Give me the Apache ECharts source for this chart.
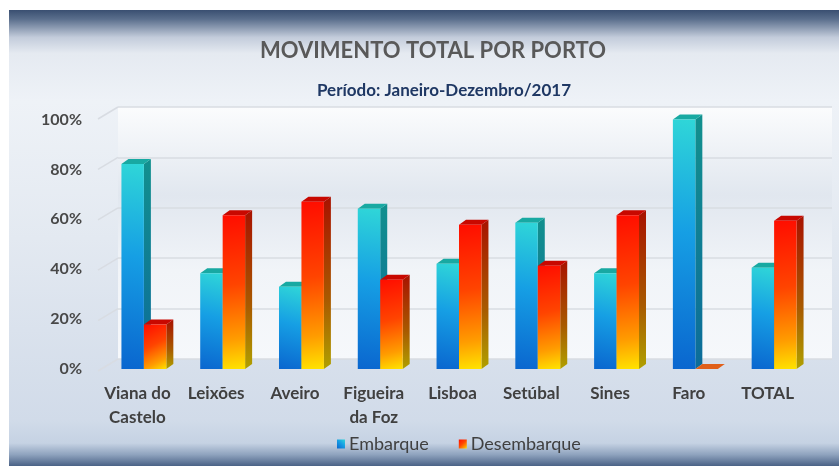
<!DOCTYPE html>
<html>
<head>
<meta charset="utf-8">
<script src="https://cdn.jsdelivr.net/npm/echarts@6/dist/echarts.min.js"></script>
<style>html,body{margin:0;padding:0;background:#fff}#c{width:839px;height:466px}</style>
</head>
<body>
<div id="c"></div>
<script>
// ---- data ----
const categories = ['Viana do\nCastelo', 'Leixões', 'Aveiro', 'Figueira\nda Foz', 'Lisboa', 'Setúbal', 'Sines', 'Faro', 'TOTAL'];
const embarque = [82.2, 38.4, 33.0, 64.2, 42.2, 58.6, 38.4, 100, 40.6];
const desembarque = [17.8, 61.6, 67.0, 35.8, 57.8, 41.4, 61.6, 0, 59.4];
const yTicks = [0, 20, 40, 60, 80, 100];
const titleText = 'MOVIMENTO TOTAL POR PORTO';
const subtitleText = 'Período: Janeiro-Dezembro/2017';

const G = echarts.graphic;
const FONT = 'Lato, "Noto Sans", sans-serif';

const blueFront = new G.LinearGradient(0, 1, 1, 0, [
  {offset: 0, color: '#0a66cf'}, {offset: 0.55, color: '#169fe4'}, {offset: 1, color: '#2fd6d8'}]);
const blueSide = new G.LinearGradient(0, 0, 0, 1, [
  {offset: 0, color: '#12908e'}, {offset: 1, color: '#0c6c9a'}]);
const blueTop = '#18a9a2';
const redFront = new G.LinearGradient(0, 0, 1, 1, [
  {offset: 0, color: '#ff0d00'}, {offset: 0.45, color: '#ff4400'}, {offset: 0.8, color: '#ff9c00'}, {offset: 1, color: '#ffe400'}]);
const redSide = new G.LinearGradient(0, 0, 0, 1, [
  {offset: 0, color: '#a81200'}, {offset: 0.6, color: '#a85a00'}, {offset: 1, color: '#b0a000'}]);
const redTop = '#c80800';

const DX = 7, DY = -5, SHIFT = 6.5, BAR_FRAC = 0.285;

function bar3D(side, front, sideC, topC) {
  return function (params, api) {
    const cat = api.value(0), val = api.value(1);
    const band = api.size([1, 0])[0];
    const bw = band * BAR_FRAC;
    const b = api.coord([cat, 0]);
    const t = api.coord([cat, val]);
    const x0 = b[0] + SHIFT + (side === 0 ? -bw : 0);
    const x1 = x0 + bw;
    const yb = b[1], yt = t[1];
    const topFill = (val === 0 && side === 1) ? '#e0601a' : topC;
    return {
      type: 'group',
      children: [
        {type: 'polygon', shape: {points: [[x1, yt], [x1 + DX, yt + DY], [x1 + DX, yb + DY], [x1, yb]]}, style: {fill: sideC}},
        {type: 'polygon', shape: {points: [[x0, yt], [x0 + DX, yt + DY], [x1 + DX, yt + DY], [x1, yt]]}, style: {fill: topFill}},
        {type: 'rect', shape: {x: x0, y: yt, width: bw, height: yb - yt}, style: {fill: front}}
      ]
    };
  };
}

const chart = echarts.init(document.getElementById('c'), null, {renderer: 'canvas'});
chart.setOption({
  animation: false,
  backgroundColor: '#ffffff',
  graphic: [{
    type: 'rect', left: 9, top: 10, z: -10, silent: true,
    shape: {width: 830, height: 456},
    style: {fill: new G.LinearGradient(0, 0, 0, 1, [
      {offset: 0, color: '#3a4f71'}, {offset: 0.02, color: '#5a6e8c'}, {offset: 0.06, color: '#c3ccdb'},
      {offset: 0.095, color: '#e5eaf1'}, {offset: 0.2, color: '#eef2f7'}, {offset: 0.5, color: '#e3e9f1'},
      {offset: 0.9, color: '#d1dbe9'}, {offset: 0.95, color: '#c5d2e3'}, {offset: 0.975, color: '#8fa3be'},
      {offset: 1, color: '#4a6286'}])}
  }],
  title: [
    {text: titleText, left: 428, top: 35, textAlign: 'center',
     textStyle: {fontFamily: FONT, fontSize: 22, fontWeight: 'bold', color: '#595959'}},
    {text: subtitleText, left: 439, top: 77, textAlign: 'center',
     textStyle: {fontFamily: FONT, fontSize: 17, fontWeight: 'bold', color: '#1f3864'}}
  ],
  legend: {
    data: ['Embarque', 'Desembarque'], left: 332, top: 430, itemWidth: 8, itemHeight: 9, itemGap: 30,
    icon: 'rect',
    textStyle: {fontFamily: FONT, fontSize: 18, color: '#404040', padding: [0, 0, 0, -1]}
  },
  grid: [
    {left: 98, right: 32, top: 119.5, bottom: 97},
    {left: 118, right: 7, top: 107, bottom: 107, show: true, borderWidth: 0,
     backgroundColor: new G.LinearGradient(0, 0, 0, 1, [
       {offset: 0, color: '#fbfcfd'}, {offset: 0.35, color: '#e1e7ef'}, {offset: 0.65, color: '#f1f4f8'}, {offset: 1, color: '#f6f8fb'}])}
  ],
  xAxis: [
    {type: 'category', gridIndex: 0, data: categories, axisLine: {show: false}, axisTick: {show: false},
     axisLabel: {interval: 0, margin: 13, fontFamily: FONT, fontSize: 17, fontWeight: 'bold', color: '#404040', lineHeight: 24}},
    {type: 'value', gridIndex: 1, min: 0, max: 1, show: false}
  ],
  yAxis: [
    {type: 'value', gridIndex: 0, min: 0, max: 100, interval: 20, splitLine: {show: false},
     axisLine: {show: false}, axisTick: {show: false},
     axisLabel: {margin: 16, formatter: '{value}%', fontFamily: FONT, fontSize: 16, fontWeight: 'bold', color: '#484848'}},
    {type: 'value', gridIndex: 1, min: 0, max: 100, interval: 20, axisLabel: {show: false},
     axisLine: {show: false}, axisTick: {show: false},
     splitLine: {show: true, lineStyle: {color: '#d8dce2', width: 1.5}}}
  ],
  series: [
    {name: 'Desk', type: 'custom', xAxisIndex: 1, yAxisIndex: 1, silent: true, z: 1,
     data: yTicks.map(v => [0, v]),
     renderItem: function (params, api) {
       const p = api.coord([0, api.value(1)]);
       return {type: 'line', shape: {x1: p[0], y1: p[1], x2: p[0] - 20, y2: p[1] + 12},
               style: {stroke: '#d8dce2', lineWidth: 1.5}};
     }},
    {name: 'Embarque', type: 'custom', xAxisIndex: 0, yAxisIndex: 0, z: 3,
     itemStyle: {color: blueFront},
     encode: {x: 0, y: 1},
     data: embarque.map((v, i) => [i, v]),
     renderItem: bar3D(0, blueFront, blueSide, blueTop)},
    {name: 'Desembarque', type: 'custom', xAxisIndex: 0, yAxisIndex: 0, z: 4,
     itemStyle: {color: redFront},
     encode: {x: 0, y: 1},
     data: desembarque.map((v, i) => [i, v]),
     renderItem: bar3D(1, redFront, redSide, redTop)}
  ]
});
</script>
</body>
</html>
